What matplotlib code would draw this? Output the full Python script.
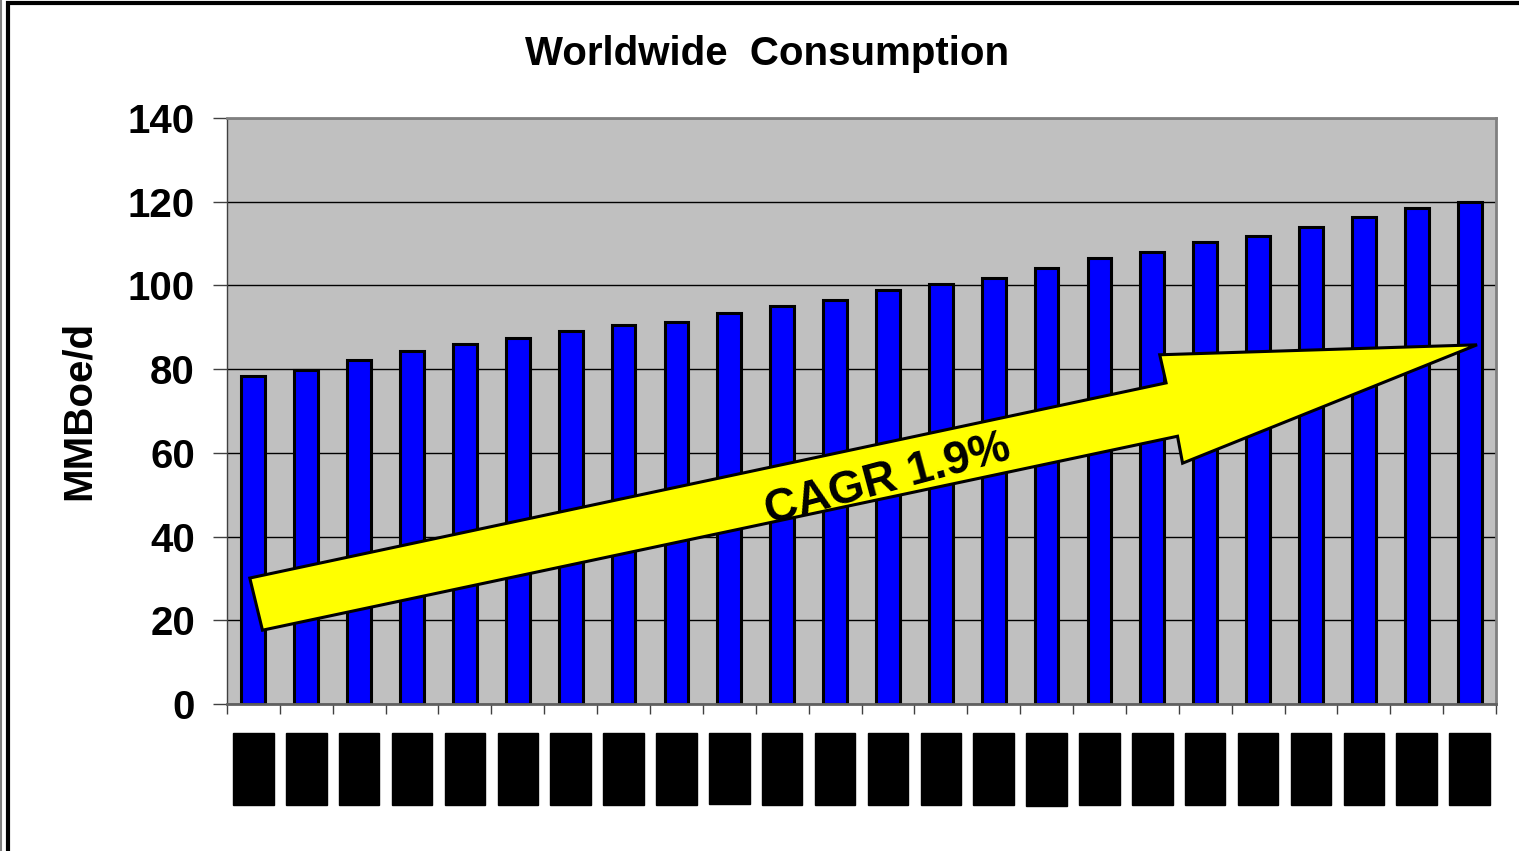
import matplotlib
matplotlib.use("Agg")
import matplotlib.pyplot as plt
from matplotlib.patches import Polygon, Rectangle
import numpy as np

plt.rcParams["font.family"] = ["Liberation Sans", "DejaVu Sans"]

# Données
annees = [str(a) for a in range(2002, 2026)]
consommation = [78.4, 79.8, 82.2, 84.3, 86.0, 87.4, 89.1, 90.5, 91.3, 93.4, 95.1, 96.5,
                98.9, 100.3, 101.8, 104.2, 106.5, 108.0, 110.4, 111.8, 114.0, 116.3, 118.5, 119.9]
graduations_y = [0, 20, 40, 60, 80, 100, 120, 140]

fig = plt.figure(figsize=(15.19, 8.51), dpi=100)
ax = fig.add_axes([0.1494, 0.1727, 0.8355, 0.6886])

x = np.arange(len(annees))
ax.set_facecolor("#C0C0C0")
ax.set_axisbelow(True)
ax.yaxis.grid(True, color="black", linewidth=1)
ax.bar(x, consommation, width=0.45, color="#0000FF", edgecolor="black", linewidth=2.2, zorder=2)

ax.set_xlim(-0.5, len(annees) - 0.5)
ax.set_ylim(0, 140)
ax.set_yticks(graduations_y)
ax.set_yticklabels([str(v) for v in graduations_y], fontsize=29, fontweight="bold")
ax.tick_params(axis="y", length=10, width=1, color="#404040", pad=13, direction="out")

# x : graduations entre les catégories, étiquettes au centre
ax.set_xticks(x)
ax.set_xticklabels(annees, rotation=90, fontsize=18, fontweight="bold", color="black")
for lab in ax.get_xticklabels():
    lab.set_bbox(dict(facecolor="black", edgecolor="black", pad=6))
ax.tick_params(axis="x", which="major", length=0, pad=27)
ax.set_xticks(np.arange(-0.5, len(annees)), minor=True)
ax.tick_params(axis="x", which="minor", length=7, width=1, color="#404040")

for side in ["top", "right"]:
    ax.spines[side].set_color("#808080")
    ax.spines[side].set_linewidth(2)
ax.spines["left"].set_color("#404040")
ax.spines["left"].set_linewidth(1)
ax.spines["bottom"].set_color("#606060")
ax.spines["bottom"].set_linewidth(2)

# Flèche CAGR (coordonnées relatives aux axes)
fleche = [(0.018, 0.215), (0.740, 0.548), (0.735, 0.596), (0.985, 0.613),
          (0.753, 0.411), (0.749, 0.457), (0.028, 0.126)]
ax.add_patch(Polygon(fleche, closed=True, transform=ax.transAxes, facecolor="#FFFF00",
                     edgecolor="black", linewidth=2.2, zorder=4))
ax.text(0.521, 0.382, "CAGR 1.9%", transform=ax.transAxes, rotation=15,
        ha="center", va="center", fontsize=33, fontweight="bold", zorder=5)

fig.text(0.505, 0.937, "Worldwide  Consumption", ha="center", va="center",
         fontsize=29, fontweight="bold")
fig.text(0.052, 0.518, "MMBoe/d", rotation=90, ha="center", va="center",
         fontsize=29, fontweight="bold")

# cadre du graphique
fig.patches.append(Rectangle((0.0055, -0.05), 1.1, 1.046, transform=fig.transFigure,
                             fill=False, edgecolor="black", linewidth=3))
fig.patches.append(Rectangle((0.0005, -0.05), 1.1, 1.2, transform=fig.transFigure,
                             fill=False, edgecolor="#808080", linewidth=1.5))

fig.savefig("out.png", dpi=100)
